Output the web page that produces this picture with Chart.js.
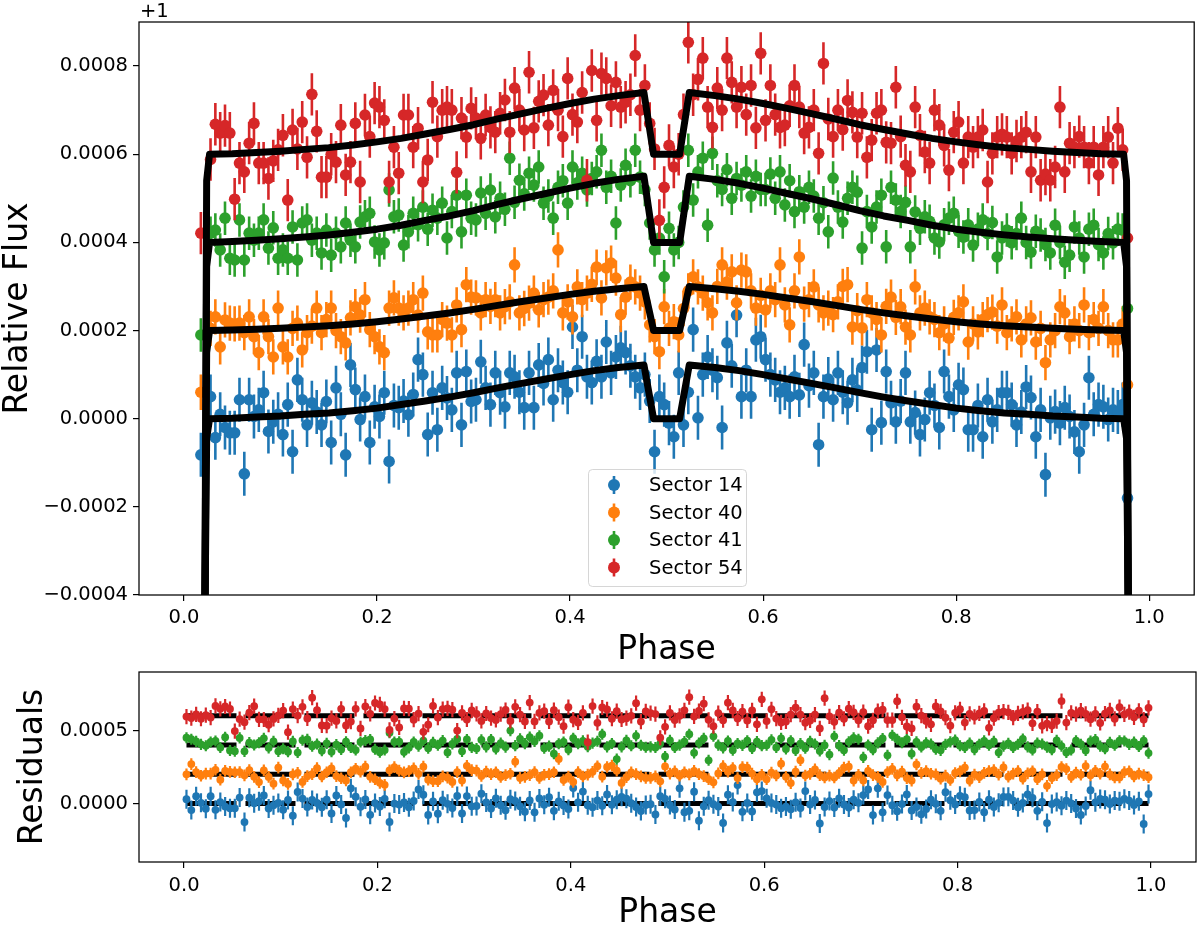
<!DOCTYPE html>
<html><head><meta charset="utf-8">
<script src="https://cdn.jsdelivr.net/npm/chart.js@4.4.0/dist/chart.umd.min.js"></script>
<style>
html,body{margin:0;padding:0;background:#fff;width:1200px;height:932px;overflow:hidden;}
#top{position:absolute;left:0;top:0;width:1200px;height:670px;}
#bot{position:absolute;left:0;top:650px;width:1200px;height:282px;}
</style></head><body>
<div id="top"><canvas id="c1"></canvas></div>
<div id="bot"><canvas id="c2"></canvas></div>
<script>
// ---------- data (flux offsets in ppm, i.e. 1e-6 relative to +1) ----------
const SERIES = ['Sector 14', 'Sector 40', 'Sector 41', 'Sector 54'];
const COLORS = ['#1f77b4', '#ff7f0e', '#2ca02c', '#d62728'];
const N_BINS = 200; // phase bins, centres at (i+0.5)/N_BINS
const X_TICKS = [0, 0.2, 0.4, 0.6, 0.8, 1.0];
const Y_TICKS_TOP = [-400, -200, 0, 200, 400, 600, 800];
const Y_TICKS_RES = [0, 500];
const RES_LEVELS = [0, 200, 400, 600];
const ERR_TOP = [50, 40, 38, 48];
const ERR_RES = [65, 40, 38, 52];

const FLUX_S14 = [null,null,null,-82,null,50,-43,10,-20,-32,-32,43,-125,43,5,20,59,-29,-7,10,
-36,32,-75,88,43,-14,36,15,-14,39,-54,70,10,-82,122,66,-2,50,-54,27,
5,59,-97,30,25,40,9,55,134,100,-36,59,-25,70,47,20,104,-14,107,39,
43,129,70,32,104,59,27,104,95,60,25,104,25,122,80,134,43,110,82,60,
208,110,186,95,82,130,95,174,104,140,161,150,120,95,70,100,40,-75,50,32,
-10,-41,104,-14,60,202,2,100,140,110,93,-20,172,120,235,50,110,50,179,186,
134,100,88,60,70,50,95,54,168,75,104,-59,50,90,43,104,60,36,88,65,
116,152,-25,156,-9,107,36,-7,40,104,-7,14,-36,-2,59,30,-20,107,50,20,
77,66,-25,-25,30,-41,43,-7,20,59,59,32,-14,15,72,48,-41,20,-127,2,
16,-10,25,5,-30,-75,-14,93,10,32,27,-2,20,15,32,-180,null,null,null,null];
const FLUX_S40 = [null,null,null,60,null,205,231,163,224,217,215,217,195,231,186,150,231,186,140,251,
163,140,205,217,156,195,210,251,195,225,251,200,186,172,229,254,235,270,202,186,
163,150,251,274,251,240,251,270,235,285,197,190,190,225,217,190,258,202,304,276,
274,240,270,255,270,240,254,265,349,240,250,262,285,247,270,276,290,383,240,265,
231,299,270,285,305,344,274,342,353,319,236,276,310,299,285,265,213,186,152,254,
205,220,190,250,290,322,299,285,263,240,300,349,310,333,263,337,333,290,251,280,
247,290,270,349,258,213,290,367,260,270,299,258,240,251,236,265,300,304,208,245,
206,270,240,225,190,255,276,230,254,208,190,299,240,251,231,225,195,215,183,230,
240,265,174,215,197,225,236,242,210,258,195,215,231,179,215,229,174,205,127,179,
200,254,240,186,215,200,258,195,225,205,254,200,179,179,215,77,null,null,null,null];
const FLUX_S41 = [null,null,null,190,null,421,428,383,455,364,360,451,360,421,405,421,451,387,433,364,
383,364,435,360,444,451,405,421,376,428,371,421,390,444,405,390,446,458,466,401,
383,399,519,458,462,394,424,466,440,480,430,473,455,489,410,470,507,424,507,455,
451,512,466,519,458,500,475,591,491,541,510,557,530,571,489,505,455,525,540,489,
571,535,557,519,545,560,609,525,550,444,530,575,540,609,548,520,444,383,410,322,
432,383,400,480,609,496,560,591,439,602,540,520,565,500,545,530,560,505,550,520,
520,555,500,560,485,540,470,515,480,525,505,455,490,424,546,480,446,500,525,514,
387,470,435,480,507,390,525,496,470,491,390,469,432,458,448,410,401,440,455,466,
425,412,440,394,430,451,420,445,367,410,428,399,420,455,400,378,425,417,395,376,
439,400,355,371,435,410,367,430,439,395,376,420,399,430,428,250,null,null,null,null];
const FLUX_S54 = [null,null,null,421,null,588,668,648,665,648,498,580,560,625,670,580,580,545,585,610,
643,496,655,612,673,593,736,652,548,548,600,582,666,553,582,670,537,689,640,716,
707,677,537,616,557,689,689,616,659,537,587,718,640,700,707,700,559,682,639,704,
682,636,689,661,650,693,723,650,750,700,655,786,660,720,734,666,745,700,640,772,
690,673,740,541,790,677,783,772,710,763,707,718,735,824,700,756,670,612,450,525,
620,571,600,690,854,735,770,818,707,661,750,700,818,763,707,752,690,756,660,829,
677,756,690,661,666,710,756,707,648,661,700,602,806,680,640,700,656,722,695,639,
693,593,632,693,700,627,625,752,640,575,560,707,643,605,580,700,666,620,564,650,
673,580,639,616,639,655,537,602,639,645,639,602,630,639,650,560,639,541,555,541,
571,707,560,625,616,640,616,580,616,553,616,639,580,659,610,410,null,null,null,null];

const RES_S14 = [30,-45,50,5,-35,50,-43,10,-21,-33,-33,41,-127,40,2,16,55,-34,-12,4,
-42,25,-83,79,34,-24,25,4,-26,26,-68,55,-6,-99,104,47,-22,28,-77,3,
-21,32,-126,0,-7,7,-26,18,96,60,-78,15,-70,23,-2,-31,52,-68,51,-19,
-17,67,7,-34,36,-11,-46,30,18,-19,-56,21,-60,35,-9,43,-50,15,-14,-38,
107,8,82,-11,-25,21,-15,62,-9,26,46,33,2,-24,-51,-10,-5,-75,50,32,
-10,-41,104,-59,-50,81,-117,-18,23,-5,-21,-133,60,10,126,-57,4,-54,77,85,
36,4,-7,-33,-21,-39,8,-31,85,-6,25,-136,-24,17,-27,36,-6,-27,26,5,
58,96,-79,104,-60,58,-11,-52,-4,62,-47,-24,-73,-37,26,-2,-50,78,23,-6,
53,43,-47,-45,11,-59,26,-23,5,45,46,20,-25,4,62,39,-50,12,-134,-4,
10,-15,20,1,-34,-78,-17,91,8,31,26,-3,20,15,32,20,-10,15,-140,65];
const RES_S40 = [200,270,215,190,205,205,231,163,223,216,214,215,193,229,183,147,227,182,136,246,
158,134,199,210,148,187,201,242,185,214,240,188,173,158,214,238,218,252,183,166,
142,128,227,249,225,213,222,240,203,252,163,154,153,186,177,148,215,157,258,228,
225,189,218,201,214,182,194,204,286,175,183,194,215,175,197,201,214,305,161,184,
148,215,185,198,217,255,184,250,260,225,141,180,213,201,186,175,176,186,152,254,
205,220,190,213,200,223,201,188,167,145,206,256,218,243,174,249,246,205,167,197,
166,211,192,273,183,140,218,297,192,203,234,195,179,191,178,209,246,252,157,196,
158,224,195,182,148,215,237,193,218,174,157,267,210,222,204,199,170,191,161,209,
220,246,156,198,181,210,222,229,198,247,184,205,222,170,207,221,167,199,121,174,
195,250,236,182,212,197,256,193,223,204,253,199,179,179,215,220,185,205,195,180];
const RES_S41 = [450,440,425,405,395,421,428,383,454,363,358,449,357,417,401,416,446,381,426,357,
375,355,425,349,433,439,392,407,361,412,354,403,370,423,383,366,421,431,438,371,
351,366,484,421,423,353,381,421,393,431,379,419,399,431,350,408,442,357,438,384,
377,436,388,438,374,414,386,499,396,443,410,455,425,464,379,393,341,409,421,368,
447,409,429,389,413,426,474,388,411,304,388,432,395,463,399,385,388,383,410,322,
432,383,400,424,474,347,414,446,296,460,400,381,428,365,411,398,430,377,424,396,
399,436,384,446,373,430,363,410,378,425,407,360,398,335,460,396,365,422,449,440,
316,401,368,415,445,330,467,440,416,440,341,422,387,415,407,371,364,405,422,434,
395,384,413,369,406,429,399,425,349,393,412,384,406,442,388,367,414,407,386,368,
432,393,349,366,430,406,363,427,437,393,375,419,399,430,428,405,420,390,430,345];
const RES_S54 = [595,585,610,580,605,588,668,648,664,647,496,578,557,622,666,576,575,539,579,603,
636,488,646,602,662,582,724,639,534,533,584,565,648,534,561,648,514,664,614,688,
678,646,504,581,521,651,649,574,615,491,539,668,588,646,651,642,499,620,575,637,
613,565,616,585,572,612,640,565,662,609,562,691,562,620,632,562,639,591,529,659,
574,555,621,420,667,552,657,644,580,632,575,584,600,687,561,630,618,612,450,525,
620,571,600,638,728,596,633,683,573,529,619,570,690,637,582,629,569,637,542,713,
564,645,581,555,562,608,656,609,553,568,609,514,721,597,559,622,580,649,624,570,
626,529,570,633,642,571,571,700,590,527,514,663,601,565,542,664,631,587,533,621,
645,554,614,593,617,634,518,584,622,629,624,588,617,627,639,549,629,532,547,534,
564,701,554,620,612,636,613,577,614,551,615,638,580,659,610,625,590,635,575,655];

const MODEL_PHASE = [0,0.012,0.0215,0.0235,0.0265,0.05,0.075,0.1,0.125,0.15,0.175,0.2,0.225,0.25,0.275,0.3,0.325,0.35,0.375,0.4,0.425,0.45,
0.4765,0.4865,0.5135,0.5235,
0.55,0.575,0.6,0.625,0.65,0.675,0.7,0.725,0.75,0.775,0.8,0.825,0.85,0.875,0.9,0.925,0.95,0.9735,0.9765,0.9785,0.988,1.0];
const MODEL_S14 = [-6000,-6000,-500,-45,0,1,4,6,10,13,18,24,32,40,49,59,70,80,90,100,109,116,
122,0,0,122,116,109,100,90,80,70,59,49,40,32,24,18,13,10,6,4,1,0,-45,-500,-6000,-6000];
const MODEL_S40 = [-6000,-6000,-500,150,200,201,203,205,208,211,215,220,226,233,240,248,257,266,274,282,289,295,
300,200,200,300,295,289,282,274,266,257,248,240,233,226,220,215,211,208,205,203,201,200,150,-500,-6000,-6000];
const MODEL_S41 = [-6000,-6000,-500,345,400,402,405,408,412,417,423,430,439,450,460,472,486,499,511,523,534,543,
550,400,400,550,543,534,523,511,499,486,472,460,450,439,430,423,417,412,408,405,402,400,345,-500,-6000,-6000];
const MODEL_S54 = [-6000,-6000,-500,540,600,601,604,607,611,615,621,628,636,646,656,667,680,692,704,715,725,733,
740,600,600,740,733,725,715,704,692,680,667,656,646,636,628,621,615,611,607,604,601,600,540,-500,-6000,-6000];

// ---------- helpers ----------
const FONT = 'DejaVu Sans';
Chart.defaults.font.family = FONT;
Chart.defaults.color = '#000';
const PHASE = Array.from({length: N_BINS}, (_, i) => (i + 0.5) / N_BINS);
const toPts = (xs, ys) => xs.map((x, i) => ({x: x, y: ys[i]}));
const fmtY = v => { const s = (Math.abs(v) / 1e6).toFixed(4); return (v < 0 ? '\u2212' : '') + s; };

const errBars = {
  id: 'errBars',
  beforeDatasetDraw(chart, args) {
    const ds = chart.data.datasets[args.index];
    if (!ds.err) return;
    const {ctx, chartArea: a, scales: {x, y}} = chart;
    ctx.save();
    ctx.beginPath(); ctx.rect(a.left, a.top, a.right - a.left, a.bottom - a.top); ctx.clip();
    ctx.strokeStyle = ds.backgroundColor; ctx.lineWidth = ds.errWidth; ctx.lineCap = 'butt';
    ctx.beginPath();
    ds.data.forEach(p => {
      if (p.y == null) return;
      const px = x.getPixelForValue(p.x);
      ctx.moveTo(px, y.getPixelForValue(p.y + ds.err));
      ctx.lineTo(px, y.getPixelForValue(p.y - ds.err));
    });
    ctx.stroke(); ctx.restore();
  }
};
const frame = {
  id: 'frame',
  afterDraw(chart) {
    const {ctx, chartArea: a} = chart;
    ctx.save(); ctx.strokeStyle = '#000'; ctx.lineWidth = 1.25;
    ctx.strokeRect(a.left, a.top, a.right - a.left, a.bottom - a.top);
    ctx.restore();
  }
};
const offsetText = {
  id: 'offsetText',
  afterDraw(chart) {
    const {ctx, chartArea: a} = chart;
    ctx.save(); ctx.fillStyle = '#000'; ctx.font = '19.5px "' + FONT + '"';
    ctx.textAlign = 'left'; ctx.textBaseline = 'alphabetic';
    ctx.fillText('+1', a.left + 1, a.top - 5);
    ctx.restore();
  }
};
const legendBox = {
  id: 'legendBox',
  afterDraw(chart) {
    const {ctx, chartArea: a} = chart;
    const bw = 158, bh = 117;
    const bx = Math.round((a.left + a.right) / 2 - bw / 2), by = Math.round(a.bottom - 9 - bh);
    ctx.save();
    ctx.beginPath(); ctx.roundRect(bx + 0.5, by + 0.5, bw, bh, 4);
    ctx.fillStyle = 'rgba(255,255,255,0.8)'; ctx.fill();
    ctx.strokeStyle = 'rgba(204,204,204,0.8)'; ctx.lineWidth = 1; ctx.stroke();
    ctx.font = '19.5px "' + FONT + '"'; ctx.textBaseline = 'middle'; ctx.textAlign = 'left';
    SERIES.forEach((name, i) => {
      const cy = by + 16 + i * 27.5, mx = bx + 26;
      ctx.strokeStyle = COLORS[i]; ctx.lineWidth = 2.6;
      ctx.beginPath(); ctx.moveTo(mx, cy - 9); ctx.lineTo(mx, cy + 9); ctx.stroke();
      ctx.fillStyle = COLORS[i]; ctx.beginPath(); ctx.arc(mx, cy, 6, 0, Math.PI * 2); ctx.fill();
      ctx.fillStyle = '#000'; ctx.fillText(name, bx + 61, cy + 1);
    });
    ctx.restore();
  }
};

function xAxis(h, tickPad, titlePad) {
  return {
    type: 'linear', min: -0.0466, max: 1.0466,
    afterBuildTicks: s => { s.ticks = X_TICKS.map(v => ({value: v})); },
    afterFit: s => { s.height = h; },
    ticks: {callback: v => Number(v).toFixed(1), font: {size: 19.5}, color: '#000', padding: tickPad, maxRotation: 0, autoSkip: false},
    grid: {drawOnChartArea: false, tickLength: 6, color: '#000', tickColor: '#000', tickWidth: 1.2, lineWidth: 1.2},
    border: {display: false},
    title: {display: true, text: 'Phase', font: {size: 33, lineHeight: 1}, color: '#000', padding: {top: 0, bottom: titlePad}}
  };
}
function yAxis(ticks, title, titlePad) {
  return {
    type: 'linear', min: -400, max: 900,
    afterBuildTicks: s => { s.ticks = ticks.map(v => ({value: v})); },
    afterFit: s => { s.width = 139; },
    ticks: {callback: v => fmtY(v), font: {size: 19.5}, color: '#000', padding: 5, autoSkip: false},
    grid: {drawOnChartArea: false, tickLength: 6, color: '#000', tickColor: '#000', tickWidth: 1.2, lineWidth: 1.2},
    border: {display: false},
    title: {display: true, text: title, font: {size: 33, lineHeight: 1}, color: '#000', padding: {top: titlePad, bottom: 0}}
  };
}

// ---------- top panel ----------
const FLUX = [FLUX_S14, FLUX_S40, FLUX_S41, FLUX_S54];
const MODELS = [MODEL_S14, MODEL_S40, MODEL_S41, MODEL_S54];
const RES = [RES_S14, RES_S40, RES_S41, RES_S54];

const topSets = [];
FLUX.forEach((f, i) => topSets.push({
  label: SERIES[i], data: toPts(PHASE, f), backgroundColor: COLORS[i], borderColor: COLORS[i],
  pointRadius: 5.8, borderWidth: 0, pointBorderWidth: 0, showLine: false,
  err: ERR_TOP[i], errWidth: 2.6, order: 4 - i, clip: 0
}));
MODELS.forEach((m, i) => topSets.push({
  label: 'model ' + SERIES[i], data: toPts(MODEL_PHASE, m), showLine: true, pointRadius: 0,
  borderColor: '#000', backgroundColor: '#000', borderWidth: 7, borderJoinStyle: 'round',
  tension: 0, order: 0, clip: 0
}));

new Chart(document.getElementById('c1'), {
  type: 'scatter',
  data: {datasets: topSets},
  options: {
    responsive: true, maintainAspectRatio: false, animation: false, events: [],
    layout: {padding: {top: 22, right: 4, left: 0, bottom: 0}},
    plugins: {legend: {display: false}, tooltip: {enabled: false}},
    scales: {x: xAxis(75, 5, 3.5), y: yAxis(Y_TICKS_TOP, 'Relative Flux', 1.5)}
  },
  plugins: [errBars, frame, offsetText, legendBox]
});

// ---------- residual panel ----------
const botSets = [];
RES_LEVELS.forEach((lv, i) => botSets.push({
  label: 'zero ' + SERIES[i], data: [{x: PHASE[0], y: lv}, {x: PHASE[N_BINS - 1], y: lv}],
  showLine: true, pointRadius: 0, borderColor: '#000', borderWidth: 5, borderDash: [50, 9],
  order: 10, clip: 0
}));
RES.forEach((r, i) => botSets.push({
  label: SERIES[i], data: toPts(PHASE, r), backgroundColor: COLORS[i], borderColor: COLORS[i],
  pointRadius: 3.9, borderWidth: 0, pointBorderWidth: 0, showLine: false,
  err: ERR_RES[i], errWidth: 2.2, order: 4 - i, clip: 0
}));

new Chart(document.getElementById('c2'), {
  type: 'scatter',
  data: {datasets: botSets},
  options: {
    responsive: true, maintainAspectRatio: false, animation: false, events: [],
    layout: {padding: {top: 22, right: 4, left: 0, bottom: 0}},
    plugins: {legend: {display: false}, tooltip: {enabled: false}},
    scales: {x: xAxis(70, 6, 2.5), y: yAxis(Y_TICKS_RES, 'Residuals', 16.5)}
  },
  plugins: [errBars, frame]
});
</script>
</body></html>
